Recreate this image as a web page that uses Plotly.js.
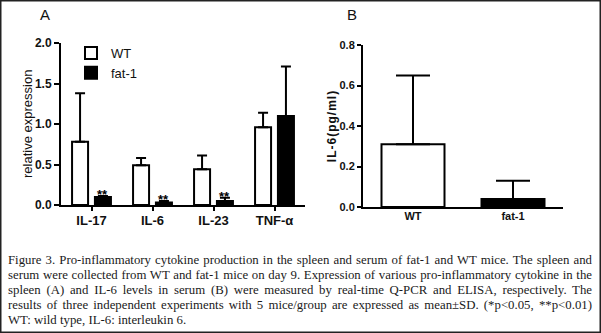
<!DOCTYPE html>
<html><head><meta charset="utf-8">
<script src="https://cdn.plot.ly/plotly-3.0.1.min.js"></script>
<style>
html,body{margin:0;padding:0;background:#fff;}
#wrap{position:relative;width:601px;height:333px;overflow:hidden;}
#chart{position:absolute;left:0;top:0;width:601px;height:333px;}
.cap{position:absolute;left:8px;width:584px;height:15px;font-family:"Liberation Serif","Times New Roman",serif;font-size:12.8px;line-height:15px;color:#1a1a1a;white-space:nowrap;text-align:justify;text-align-last:justify;}
.cap.last{text-align-last:left;text-align:left;}
</style></head><body>
<div id="wrap"><div id="chart"></div>
<div class="cap" style="top:253px">Figure 3. Pro-inflammatory cytokine production in the spleen and serum of fat-1 and WT mice. The spleen and</div>
<div class="cap" style="top:268px">serum were collected from WT and fat-1 mice on day 9. Expression of various pro-inflammatory cytokine in the</div>
<div class="cap" style="top:283px">spleen (A) and IL-6 levels in serum (B) were measured by real-time Q-PCR and ELISA, respectively. The</div>
<div class="cap" style="top:298px">results of three independent experiments with 5 mice/group are expressed as mean±SD. (*p&lt;0.05, **p&lt;0.01)</div>
<div class="cap last" style="top:313px">WT: wild type, IL-6: interleukin 6.</div>
</div>
<script>
// Panel A data
const categoriesA = ['IL-17', 'IL-6', 'IL-23', 'TNF-α'];
const wtA = [0.78, 0.49, 0.44, 0.96];
const wtAErr = [0.60, 0.09, 0.17, 0.18];
const fat1A = [0.10, 0.03, 0.05, 1.10];
const fat1AErr = [0.01, 0.02, 0.04, 0.61];
const sigA = ['**', '**', '**', ''];
const yTicksA = [0, 0.5, 1.0, 1.5, 2.0];
const yTitleA = 'relative expression';
// Panel B data
const categoriesB = ['WT', 'fat-1'];
const il6B = [0.31, 0.04];
const il6BErr = [0.34, 0.09];
const yTicksB = [0, 0.2, 0.4, 0.6, 0.8];
const yTitleB = 'IL-6(pg/ml)';

const W = 601, H = 333;
const px = v => v / W, py = v => 1 - v / H;
const BARGAP = 0.25;
const FONT = 'Arial, "Liberation Sans", sans-serif';

const zeros = a => a.map(() => 0);

const traces = [
  {type: 'bar', name: 'WT', x: categoriesA, y: wtA, xaxis: 'x', yaxis: 'y',
   marker: {color: '#ffffff', line: {color: '#000', width: 2}},
   error_y: {type: 'data', symmetric: false, array: wtAErr, arrayminus: zeros(wtAErr), color: '#000', thickness: 2, width: 5}},
  {type: 'bar', name: 'fat-1', x: categoriesA, y: fat1A, xaxis: 'x', yaxis: 'y',
   marker: {color: '#000000', line: {color: '#000', width: 2}},
   error_y: {type: 'data', symmetric: false, array: fat1AErr, arrayminus: zeros(fat1AErr), color: '#000', thickness: 2, width: 5}},
  {type: 'bar', name: 'IL-6 serum', x: categoriesB, y: il6B, xaxis: 'x2', yaxis: 'y2', showlegend: false, width: 0.63,
   marker: {color: ['#ffffff', '#000000'], line: {color: '#000', width: 2}},
   error_y: {type: 'data', symmetric: false, array: il6BErr, arrayminus: zeros(il6BErr), color: '#000', thickness: 2, width: 17}}
];

const annotations = [
  {text: 'A', xref: 'paper', yref: 'paper', x: px(45), y: py(15), xanchor: 'center', yanchor: 'middle', showarrow: false, font: {family: FONT, size: 15, color: '#111'}},
  {text: 'B', xref: 'paper', yref: 'paper', x: px(352), y: py(15), xanchor: 'center', yanchor: 'middle', showarrow: false, font: {family: FONT, size: 15, color: '#111'}},
  {text: yTitleA, xref: 'paper', yref: 'paper', x: px(27), y: py(124), xanchor: 'center', yanchor: 'middle', textangle: -90, showarrow: false,
   font: {family: FONT, size: 13, color: '#111'}}
];
sigA.forEach((s, i) => {
  if (!s) return;
  annotations.push({text: s, xref: 'x', yref: 'y', x: i + (1 - BARGAP) / 4, y: fat1A[i] + fat1AErr[i],
    xanchor: 'center', yanchor: 'bottom', yshift: -8, showarrow: false, font: {family: FONT, size: 13, color: '#000', weight: 'bold'}});
});

const axisCommon = {showline: true, linecolor: '#000', linewidth: 2, showgrid: false, zeroline: false,
  ticks: 'outside', tickcolor: '#000', tickwidth: 2, fixedrange: true};

const layout = {
  width: W, height: H, margin: {l: 0, r: 0, t: 0, b: 0},
  paper_bgcolor: '#fff', plot_bgcolor: 'rgba(0,0,0,0)',
  barmode: 'group', bargap: BARGAP, bargroupgap: 0.3,
  font: {family: FONT, color: '#000'},
  showlegend: true,
  legend: {x: px(71), y: py(38), xanchor: 'left', yanchor: 'top', bgcolor: 'rgba(0,0,0,0)',
    font: {family: FONT, size: 13, color: '#111'}, tracegroupgap: 0},
  xaxis: Object.assign({}, axisCommon, {domain: [px(61), px(305)], anchor: 'y', range: [-0.5, 3.5], ticklen: 4,
    ticklabelstandoff: -2,
    tickfont: {family: FONT, size: 13, weight: 'bold', color: '#111'}}),
  yaxis: Object.assign({}, axisCommon, {domain: [py(205), py(43)], anchor: 'x', range: [0, 2.0], ticklen: 5,
    tickvals: yTicksA, tickformat: '.1f', tickfont: {family: FONT, size: 12, weight: 'bold', color: '#111'}}),
  xaxis2: Object.assign({}, axisCommon, {domain: [px(363), px(563)], anchor: 'y2', range: [-0.5, 1.5], ticks: '',
    ticklabelstandoff: -2,
    tickfont: {family: FONT, size: 11, weight: 'bold', color: '#111'}}),
  yaxis2: Object.assign({}, axisCommon, {domain: [py(207), py(45)], anchor: 'x2', range: [0, 0.8], ticklen: 4,
    tickvals: yTicksB, tickformat: '.1f', tickfont: {family: FONT, size: 11, weight: 'bold', color: '#111'},
    title: {text: '<span style="letter-spacing:1px">' + yTitleB + '</span>', font: {family: FONT, size: 12, weight: 'bold', color: '#111'}, standoff: 0}}),
  annotations: annotations,
  shapes: [{type: 'rect', xref: 'paper', yref: 'paper', x0: 0, x1: 1, y0: 0, y1: 1, line: {color: '#222', width: 3}}]
};

Plotly.newPlot('chart', traces, layout, {displayModeBar: false, staticPlot: true});
</script>
</body></html>
